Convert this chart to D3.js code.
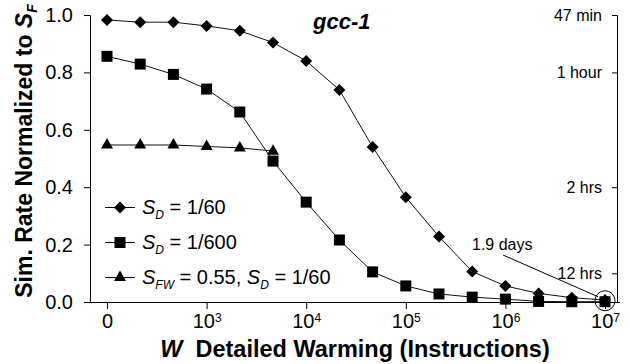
<!DOCTYPE html>
<html>
<head>
<meta charset="utf-8">
<script src="https://cdn.jsdelivr.net/npm/d3@7"></script>
<style>
  body { margin: 0; background: #fff; }
  text { font-family: "Liberation Sans", Arial, sans-serif; fill: #000; }
  .axis path { stroke: #000; stroke-width: 1px; fill: none; }
  .tickmark { stroke: #000; stroke-width: 1px; }
</style>
</head>
<body>
<svg id="chart" width="630" height="364"></svg>
<script>
// Detailed-warming lengths (instructions), one category per measurement
const warming = [0, 250, 500, 1e3, 2.5e3, 5e3, 1e4, 2.5e4, 5e4, 1e5, 2.5e5, 5e5, 1e6, 2.5e6, 5e6, 1e7];

// Simulation rate normalized to S_F
const rateSd60  = [0.983, 0.975, 0.975, 0.962, 0.945, 0.904, 0.840, 0.739, 0.540, 0.365, 0.228, 0.106, 0.056, 0.030, 0.015, 0.007];
const rateSd600 = [0.856, 0.829, 0.793, 0.742, 0.662, 0.491, 0.348, 0.216, 0.105, 0.056, 0.028, 0.017, 0.010, 0.002, 0.001, 0.001];
const rateSfw   = [0.547, 0.547, 0.547, 0.542, 0.537, 0.526];   // first six warming lengths

// Axis ticks
const xTickValues = [0, 1e3, 1e4, 1e5, 1e6, 1e7];
const xTickExponents = [null, 3, 4, 5, 6, 7];
const yTickValues = [0, 0.2, 0.4, 0.6, 0.8, 1.0];
const timeTickValues = [1.0, 0.8, 0.4, 0.1];
const timeTickLabels = ["47 min", "1 hour", "2 hrs", "12 hrs"];

// Layout
const plotLeft = 90, plotRight = 617, plotTop = 15, plotBottom = 302;
const firstX = 107, lastX = 605;
const yTick = 6, timeTick = 5, xTick = 7;

const svg = d3.select("#chart");
svg.append("rect").attr("width", 630).attr("height", 364).attr("fill", "#fff");

const x = d3.scalePoint().domain(warming).range([firstX, lastX]);
const y = d3.scaleLinear().domain([0, 1]).range([plotBottom, plotTop]);

// Left axis (line + labels), tick marks drawn separately below
const yAxis = svg.append("g").attr("class", "axis")
  .attr("transform", `translate(${plotLeft},0)`)
  .call(d3.axisLeft(y).tickValues(yTickValues).tickFormat(d3.format(".1f"))
        .tickSizeInner(0).tickSizeOuter(0).tickPadding(yTick + 11));
yAxis.selectAll("text").style("font-size", "20px");

// Right (simulation time) axis
const tAxis = svg.append("g").attr("class", "axis")
  .attr("transform", `translate(${plotRight},0)`)
  .call(d3.axisLeft(y).tickValues(timeTickValues)
        .tickFormat((d, i) => timeTickLabels[i])
        .tickSizeInner(0).tickSizeOuter(0).tickPadding(timeTick + 10));
tAxis.selectAll("text").style("font-size", "16px");

// Bottom axis: baseline spanning both vertical axes, labels at decades
const xAxis = svg.append("g").attr("class", "axis")
  .attr("transform", `translate(0,${plotBottom})`)
  .call(d3.axisBottom(x).tickValues(xTickValues).tickSizeInner(0).tickSizeOuter(0)
        .tickPadding(xTick + 5).tickFormat(""));
xAxis.select(".domain").attr("d", `M${plotLeft},0.5H${plotRight + 3}`);
xAxis.selectAll(".tick text").each(function (d) {
  const t = d3.select(this).style("font-size", "20px").attr("dy", "0.71em");
  const exp = xTickExponents[xTickValues.indexOf(d)];
  if (exp === null) {
    t.text("0");
  } else {
    t.append("tspan").text("10");
    t.append("tspan").attr("dy", "-0.55em").style("font-size", "12px").text(exp);
  }
});

// Tick marks
svg.append("g").selectAll("line").data(yTickValues).join("line").attr("class", "tickmark")
  .attr("x1", plotLeft - yTick).attr("x2", plotLeft + 0.5)
  .attr("y1", d => y(d) + 0.5).attr("y2", d => y(d) + 0.5);
svg.append("g").selectAll("line").data(timeTickValues).join("line").attr("class", "tickmark")
  .attr("x1", plotRight - timeTick).attr("x2", plotRight + 0.5)
  .attr("y1", d => y(d) + 0.5).attr("y2", d => y(d) + 0.5);
svg.append("g").selectAll("line").data(xTickValues).join("line").attr("class", "tickmark")
  .attr("x1", d => x(d) + 0.5).attr("x2", d => x(d) + 0.5)
  .attr("y1", plotBottom).attr("y2", plotBottom + xTick);

// Marker shapes
const markers = {
  diamond: r => `M0,${-r}L${r},0L0,${r}L${-r},0Z`,
  square: r => `M${-r},${-r}H${r}V${r}H${-r}Z`,
  triangle: r => `M0,${-r * 1.15}L${r},${r * 0.6}L${-r},${r * 0.6}Z`
};

const line = d3.line().x((d, i) => x(warming[i])).y(d => y(d));

const seriesList = [
  { values: rateSd600, marker: "square", r: 5.5 },
  { values: rateSfw, marker: "triangle", r: 6 },
  { values: rateSd60, marker: "diamond", r: 6 }
];

seriesList.forEach(s => {
  svg.append("path").datum(s.values)
    .attr("d", line).attr("fill", "none").attr("stroke", "#111").attr("stroke-width", 1);
  svg.append("g").selectAll("path").data(s.values).join("path")
    .attr("transform", (d, i) => `translate(${x(warming[i])},${y(d)})`)
    .attr("d", markers[s.marker](s.r))
    .attr("fill", "#000");
});

// Title
svg.append("text").attr("x", 313).attr("y", 29)
  .style("font-size", "22px").style("font-weight", "bold").style("font-style", "italic")
  .text("gcc-1");

// Annotation: total time at the largest warming length
const lastIdx = warming.length - 1;
const cx = x(warming[lastIdx]), cy = y(rateSd600[lastIdx]);
svg.append("circle").attr("cx", cx).attr("cy", cy - 1).attr("r", 10)
  .attr("fill", "none").attr("stroke", "#000");
svg.append("line").attr("x1", 503).attr("y1", 255).attr("x2", cx - 7).attr("y2", cy - 5)
  .attr("stroke", "#000");
svg.append("text").attr("x", 472).attr("y", 250).style("font-size", "16px").text("1.9 days");

// Legend
const legendRows = [
  { marker: "diamond", r: 6, parts: [["S", "D"], [" = 1/60"]] },
  { marker: "square", r: 5.5, parts: [["S", "D"], [" = 1/600"]] },
  { marker: "triangle", r: 6, parts: [["S", "FW"], [" = 0.55, "], ["S", "D"], [" = 1/60"]] }
];
const legendY = [207, 242, 277];
legendRows.forEach((row, k) => {
  const g = svg.append("g").attr("transform", `translate(0,${legendY[k]})`);
  g.append("line").attr("x1", 105).attr("x2", 135).attr("y1", 0.5).attr("y2", 0.5).attr("stroke", "#000");
  g.append("path").attr("transform", "translate(120,0.5)").attr("d", markers[row.marker](row.r)).attr("fill", "#000");
  const t = g.append("text").attr("x", 142).attr("y", 7).style("font-size", "20px");
  row.parts.forEach(p => {
    if (p.length === 2) {
      t.append("tspan").style("font-style", "italic").text(p[0]);
      t.append("tspan").style("font-style", "italic").style("font-size", "12px").attr("dy", 5).text(p[1]);
    } else {
      t.append("tspan").attr("dy", -5).text(p[0]);
    }
  });
});

// Axis titles
const yTitle = svg.append("text")
  .attr("transform", `translate(32,151) rotate(-90)`)
  .attr("text-anchor", "middle")
  .style("font-size", "23px").style("font-weight", "bold");
yTitle.append("tspan").text("Sim. Rate Normalized to ");
yTitle.append("tspan").style("font-style", "italic").text("S");
yTitle.append("tspan").style("font-style", "italic").style("font-size", "14px").attr("dy", 5).text("F");

const xTitle = svg.append("text")
  .attr("x", 355).attr("y", 357)
  .attr("text-anchor", "middle")
  .style("font-size", "23.5px").style("font-weight", "bold");
xTitle.append("tspan").style("font-style", "italic").text("W");
xTitle.append("tspan").text("\u00a0 Detailed Warming (Instructions)");
</script>
</body>
</html>
